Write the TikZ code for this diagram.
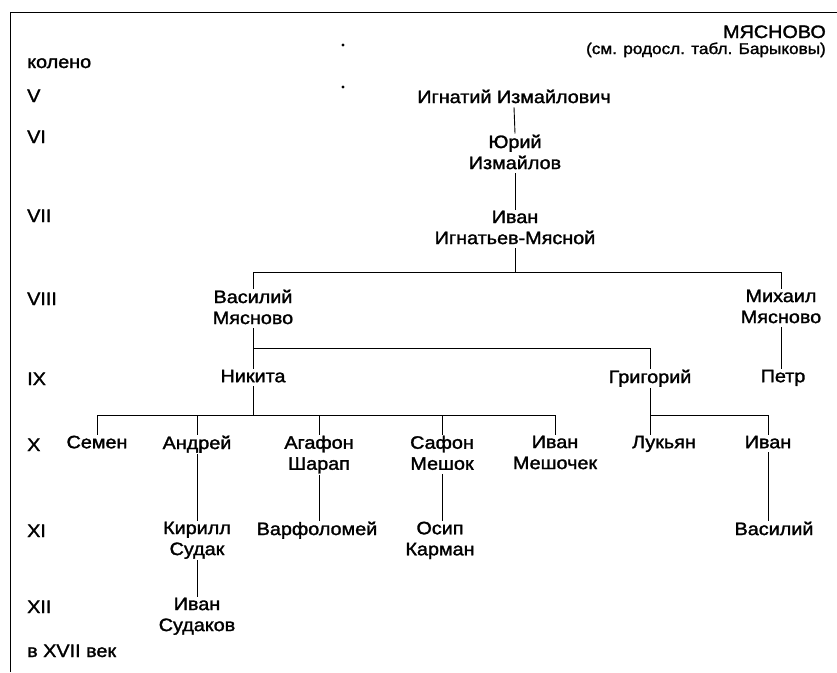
\documentclass[tikz,border=0pt]{standalone}
\usepackage{fontspec}
\setmainfont{Liberation Sans}[FakeStretch=1.1,FakeBold=1.6]
\begin{document}
\begin{tikzpicture}[x=1pt,y=-1pt,
  txt/.style={font=\fontsize{18}{21}\selectfont, inner xsep=2pt, inner ysep=1pt},
  person/.style={txt, align=center, anchor=north,
    execute at begin node=\rule[-3pt]{0pt}{15.5pt},
    execute at end node=\rule[-3pt]{0pt}{15.5pt}},
  lbl/.style={txt, anchor=base west, inner sep=0pt},
  hdr/.style={txt, anchor=base east, inner sep=0pt},
  link/.style={line width=0.9pt},
  frame/.style={line width=1.8pt}]
\useasboundingbox (0,0) rectangle (837,672);
% frame
\coordinate (fc) at (10.5,12.5);
\coordinate (fr) at (837,12.5);
\coordinate (fb) at (10.5,672);
\draw[frame] (fb) -- (fc) -- (fr);
% specks
\fill (343,45) circle (1.6);
\fill (343,87) circle (1.6);
% header
\node[hdr] (h1) at (826,38) {МЯСНОВО};
\node[hdr, font=\fontsize{15.6}{19}\selectfont] (h2) at (826,54) {(см. родосл. табл. Барыковы)};
% generation labels
\node[lbl] (k0) at (27,68) {колено};
\node[lbl] (k5) at (27,102) {V};
\node[lbl] (k6) at (27,143) {VI};
\node[lbl] (k7) at (27,222) {VII};
\node[lbl] (k8) at (27,305) {VIII};
\node[lbl] (k9) at (27,385) {IX};
\node[lbl] (k10) at (27,451) {X};
\node[lbl] (k11) at (27,537) {XI};
\node[lbl] (k12) at (27,613) {XII};
\node[lbl] (k17) at (27,657) {в XVII век};
% persons
\node[person] (ign) at (514,88.5) {Игнатий Измайлович};
\node[person] (yur) at (515,133.5) {Юрий\\Измайлов};
\node[person] (ivan) at (515,209.5) {Иван\\Игнатьев-Мясной};
\node[person] (vas) at (253,288.5) {Василий\\Мясново};
\node[person] (mih) at (781,288.5) {Михаил\\Мясново};
\node[person] (nik) at (253,368.5) {Никита};
\node[person] (grig) at (650,368.5) {Григорий};
\node[person] (petr) at (783,368.5) {Петр};
\node[person] (sem) at (97,434.5) {Семен};
\node[person] (andr) at (197,434.5) {Андрей};
\node[person] (agaf) at (319,434.5) {Агафон\\Шарап};
\node[person] (saf) at (442,434.5) {Сафон\\Мешок};
\node[person] (ivm) at (555,434.5) {Иван\\Мешочек};
\node[person] (luk) at (664,434.5) {Лукьян};
\node[person] (ivr) at (768,434.5) {Иван};
\node[person] (kir) at (197,520.5) {Кирилл\\Судак};
\node[person] (varf) at (317,520.5) {Варфоломей};
\node[person] (osip) at (440,520.5) {Осип\\Карман};
\node[person] (vasr) at (774,520.5) {Василий};
\node[person] (ivs) at (197,596.5) {Иван\\Судаков};
% bar levels
\coordinate (b1) at (0,272);
\coordinate (b2) at (0,348);
\coordinate (b3) at (0,415);
% connectors
\draw[link] (ign.south) -- (yur.north);
\draw[link] (yur.south) -- (ivan.north);
\draw[link] (ivan.south) -- (ivan.south |- b1);
\draw[link] (vas.north) -- (vas.north |- b1) -- (mih.north |- b1) -- (mih.north);
\draw[link] (vas.south) -- (nik.north);
\draw[link] (vas.south |- b2) -- (grig.north |- b2) -- (grig.north);
\draw[link] (mih.south) -- (mih.south |- petr.north);
\draw[link] (nik.south) -- (nik.south |- b3);
\draw[link] (sem.north) -- (sem.north |- b3) -- (ivm.north |- b3) -- (ivm.north);
\draw[link] (andr.north) -- (andr.north |- b3);
\draw[link] (agaf.north) -- (agaf.north |- b3);
\draw[link] (saf.north) -- (saf.north |- b3);
\draw[link] (grig.south) -- (grig.south |- luk.north);
\draw[link] (grig.south |- b3) -- (ivr.north |- b3) -- (ivr.north);
\draw[link] (andr.south) -- (andr.south |- kir.north);
\draw[link] (agaf.south) -- (agaf.south |- varf.north);
\draw[link] (saf.south) -- (saf.south |- osip.north);
\draw[link] (ivr.south) -- (ivr.south |- vasr.north);
\draw[link] (kir.south) -- (ivs.north);
\end{tikzpicture}
\end{document}
